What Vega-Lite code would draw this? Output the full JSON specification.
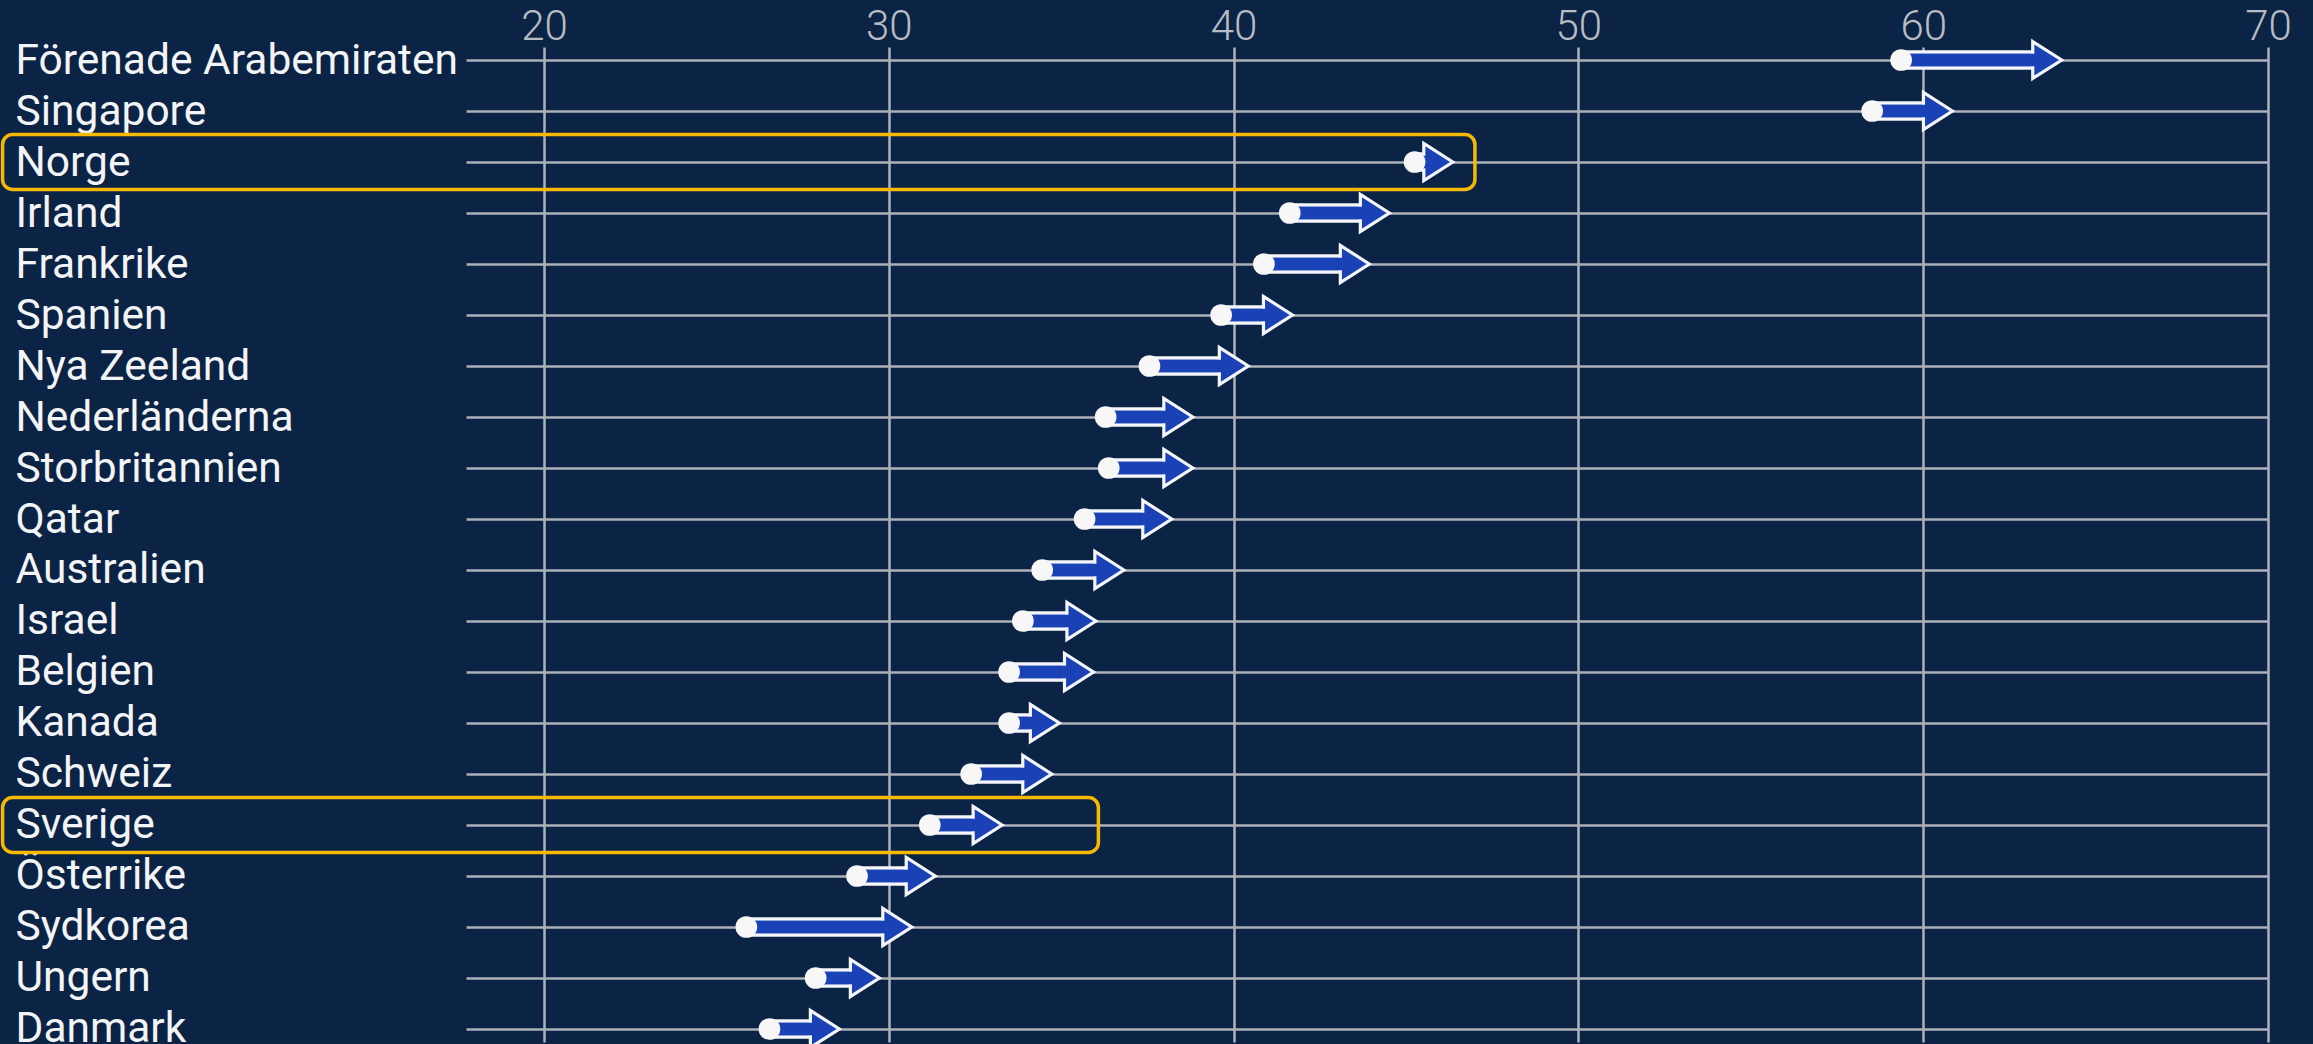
{
  "$schema": "https://vega.github.io/schema/vega-lite/v6.json",
  "autosize": {"type": "none"},
  "width": 1802,
  "height": 995,
  "padding": {"left": 466, "top": 47, "right": 45, "bottom": 2},
  "background": "#0b2344",
  "config": {
    "view": {"stroke": null},
    "font": "Roboto"
  },
  "datasets": {
    "arrows": [
      {"country": "Förenade Arabemiraten", "start": 59.36, "end": 64.1},
      {"country": "Singapore", "start": 58.52, "end": 60.93},
      {"country": "Norge", "start": 45.25, "end": 46.44},
      {"country": "Irland", "start": 41.63, "end": 44.6},
      {"country": "Frankrike", "start": 40.88, "end": 44.02},
      {"country": "Spanien", "start": 39.64, "end": 41.79},
      {"country": "Nya Zeeland", "start": 37.56, "end": 40.51},
      {"country": "Nederländerna", "start": 36.29, "end": 38.9},
      {"country": "Storbritannien", "start": 36.38, "end": 38.9},
      {"country": "Qatar", "start": 35.68, "end": 38.29},
      {"country": "Australien", "start": 34.45, "end": 36.9},
      {"country": "Israel", "start": 33.89, "end": 36.09},
      {"country": "Belgien", "start": 33.49, "end": 36.02},
      {"country": "Kanada", "start": 33.49, "end": 35.03},
      {"country": "Schweiz", "start": 32.39, "end": 34.81},
      {"country": "Sverige", "start": 31.19, "end": 33.37},
      {"country": "Österrike", "start": 29.08, "end": 31.43},
      {"country": "Sydkorea", "start": 25.87, "end": 30.75},
      {"country": "Ungern", "start": 27.88, "end": 29.81},
      {"country": "Danmark", "start": 26.54, "end": 28.65}
    ],
    "highlights": [
      {"country": "Norge", "from": 4.3, "to": 47.0},
      {"country": "Sverige", "from": 4.3, "to": 36.08}
    ]
  },
  "data": {"name": "arrows"},
  "encoding": {
    "y": {
      "field": "country",
      "type": "nominal",
      "sort": null,
      "scale": {
        "type": "point",
        "padding": 0.255,
        "domain": ["Förenade Arabemiraten", "Singapore", "Norge", "Irland", "Frankrike", "Spanien", "Nya Zeeland", "Nederländerna", "Storbritannien", "Qatar", "Australien", "Israel", "Belgien", "Kanada", "Schweiz", "Sverige", "Österrike", "Sydkorea", "Ungern", "Danmark"]
      },
      "axis": {
        "title": null,
        "orient": "left",
        "domain": false,
        "ticks": false,
        "tickSize": 0,
        "labelAlign": "left",
        "labelBaseline": "middle",
        "labelPadding": 451,
        "labelFont": "Roboto",
        "labelFontSize": 42.5,
        "labelColor": "#f3f4f6",
        "labelLimit": 0,
        "grid": true,
        "gridColor": "#aeb2b8",
        "gridWidth": 2.5,
        "gridOpacity": 1
      }
    }
  },
  "layer": [
    {
      "data": {"name": "highlights"},
      "mark": {"type": "bar", "height": 55, "cornerRadius": 10, "fill": null, "fillOpacity": 0, "stroke": "#f6b800", "strokeWidth": 3.5},
      "encoding": {
        "x": {
          "field": "from",
          "type": "quantitative",
          "scale": {"domain": [17.74, 70], "nice": false, "zero": false},
          "axis": {
            "orient": "top",
            "title": null,
            "values": [20, 30, 40, 50, 60, 70],
            "domain": false,
            "ticks": false,
            "tickSize": 0,
            "labelPadding": -1,
            "labelFont": "Roboto",
            "labelFontSize": 42,
            "labelFontWeight": 300,
            "labelColor": "#b8bcc3",
            "labelFlush": false,
            "grid": true,
            "gridColor": "#aeb2b8",
            "gridWidth": 2.5,
            "gridOpacity": 1
          }
        },
        "x2": {"field": "to"}
      }
    },
    {
      "mark": {"type": "bar", "height": 16, "fill": "#1b41b6", "stroke": "#f4f6fa", "strokeWidth": 3.3, "x2Offset": -20},
      "encoding": {
        "x": {"field": "start", "type": "quantitative"},
        "x2": {"field": "end"}
      }
    },
    {
      "mark": {"type": "point", "shape": "M -0.15 0 L -1.72 -1 L -1.72 1 Z", "size": 1369, "filled": true, "fill": "#1b41b6", "stroke": "#f4f6fa", "strokeWidth": 3.2, "opacity": 1, "strokeJoin": "miter"},
      "encoding": {
        "x": {"field": "end", "type": "quantitative"}
      }
    },
    {
      "mark": {"type": "bar", "height": 12.5, "fill": "#1b41b6", "strokeWidth": 0, "x2Offset": -22},
      "encoding": {
        "x": {"field": "start", "type": "quantitative"},
        "x2": {"field": "end"}
      }
    },
    {
      "mark": {"type": "point", "shape": "circle", "size": 470, "filled": true, "fill": "#f7f7f7", "opacity": 1},
      "encoding": {
        "x": {"field": "start", "type": "quantitative"}
      }
    }
  ]
}
